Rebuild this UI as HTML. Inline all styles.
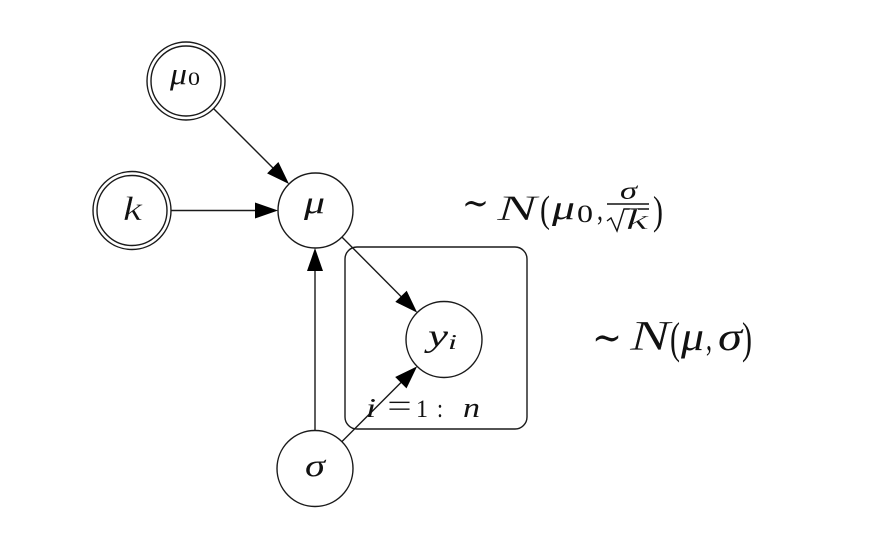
<!DOCTYPE html>
<html>
<head>
<meta charset="utf-8">
<style>
  html, body { margin:0; padding:0; background:#fff; }
  svg { display:block; }
  text { font-family: "Liberation Serif", "DejaVu Serif", serif; fill:#111; }
  .it { font-style: italic; }
  .thin { stroke:#fff; stroke-width:0.35; }
</style>
</head>
<body>
<svg width="890" height="548" viewBox="0 0 890 548" xmlns="http://www.w3.org/2000/svg">
  <rect width="890" height="548" fill="#fff"/>
  <g fill="none" stroke="#1a1a1a" stroke-width="1.4">
    <rect x="345" y="247" width="182" height="182" rx="12" ry="12"/>
    <circle cx="186" cy="81" r="39"/>
    <circle cx="186" cy="81" r="35"/>
    <circle cx="132" cy="210.5" r="39"/>
    <circle cx="132" cy="210.5" r="35"/>
    <circle cx="315.5" cy="210.5" r="37.5"/>
    <circle cx="444" cy="339.5" r="38"/>
    <circle cx="315" cy="468.5" r="38"/>
    <line x1="213.6" y1="108.6" x2="274" y2="169"/>
    <line x1="171" y1="210.5" x2="257" y2="210.5"/>
    <line x1="342" y1="237.1" x2="402" y2="297.5"/>
    <line x1="315" y1="430.5" x2="315" y2="269"/>
    <line x1="341.9" y1="441.6" x2="402" y2="381.5"/>
  </g>
  <g fill="#000" stroke="none">
    <polygon points="289,184 267.1,173.4 278.4,162.0"/>
    <polygon points="278,210.5 255,202.5 255,218.5"/>
    <polygon points="417.2,312.6 395.3,301.9 406.7,290.7"/>
    <polygon points="315,248 307,271 323,271"/>
    <polygon points="417.1,366.4 406.5,388.4 395.2,377.0"/>
  </g>
  <!-- node labels -->
  <text x="170" y="84" font-size="31" class="it" textLength="17" lengthAdjust="spacingAndGlyphs">μ</text>
  <text x="188" y="85" font-size="19" textLength="12" lengthAdjust="spacingAndGlyphs">0</text>
  <text x="123" y="220" font-size="34" class="it thin" textLength="19" lengthAdjust="spacingAndGlyphs">k</text>
  <text x="304" y="213" font-size="32" class="it" textLength="21" lengthAdjust="spacingAndGlyphs">μ</text>
  <text x="428" y="346" font-size="32" class="it" textLength="20" lengthAdjust="spacingAndGlyphs">y</text>
  <text x="448" y="349" font-size="21" class="it" textLength="9" lengthAdjust="spacingAndGlyphs">i</text>
  <text x="305" y="476" font-size="32" class="it" textLength="20" lengthAdjust="spacingAndGlyphs">σ</text>
  <!-- plate label -->
  <text x="366" y="417" font-size="27" class="it" textLength="10" lengthAdjust="spacingAndGlyphs">i</text>
  <text x="387" y="417" font-size="34" class="thin" textLength="25" lengthAdjust="spacingAndGlyphs">=</text>
  <text x="416" y="417" font-size="25" textLength="12" lengthAdjust="spacingAndGlyphs">1</text>
  <text x="437" y="417" font-size="26" textLength="6" lengthAdjust="spacingAndGlyphs">:</text>
  <text x="463" y="417" font-size="28" class="it" textLength="17" lengthAdjust="spacingAndGlyphs">n</text>
  <!-- distribution label 1 -->
  <text x="462" y="215" font-size="36" textLength="27" lengthAdjust="spacingAndGlyphs">∼</text>
  <text x="497" y="220" font-size="36" class="it thin" textLength="40" lengthAdjust="spacingAndGlyphs">N</text>
  <text x="540" y="222" font-size="38" textLength="10" lengthAdjust="spacingAndGlyphs">(</text>
  <text x="552" y="219" font-size="34" class="it" textLength="23" lengthAdjust="spacingAndGlyphs">μ</text>
  <text x="577" y="222" font-size="25" textLength="16" lengthAdjust="spacingAndGlyphs">0</text>
  <text x="597" y="220" font-size="32" textLength="6" lengthAdjust="spacingAndGlyphs">,</text>
  <text x="620" y="199" font-size="25" class="it" textLength="17" lengthAdjust="spacingAndGlyphs">σ</text>
  <line x1="607" y1="204" x2="649" y2="204" stroke="#111" stroke-width="1.4"/>
  <path d="M607,221 L611,218 L617,231 L624,209 L649,209" fill="none" stroke="#111" stroke-width="1.4"/>
  <text x="626" y="229" font-size="28" class="it thin" textLength="22" lengthAdjust="spacingAndGlyphs">k</text>
  <text x="653" y="224" font-size="40" textLength="10" lengthAdjust="spacingAndGlyphs">)</text>
  <!-- distribution label 2 -->
  <text x="592" y="351" font-size="40" textLength="30" lengthAdjust="spacingAndGlyphs">∼</text>
  <text x="630" y="350" font-size="42" class="it thin" textLength="40" lengthAdjust="spacingAndGlyphs">N</text>
  <text x="670" y="353" font-size="44" textLength="10" lengthAdjust="spacingAndGlyphs">(</text>
  <text x="681" y="350" font-size="40" class="it" textLength="23" lengthAdjust="spacingAndGlyphs">μ</text>
  <text x="706" y="350" font-size="38" textLength="6" lengthAdjust="spacingAndGlyphs">,</text>
  <text x="718" y="350" font-size="40" class="it" textLength="24" lengthAdjust="spacingAndGlyphs">σ</text>
  <text x="742" y="353" font-size="44" textLength="10" lengthAdjust="spacingAndGlyphs">)</text>
</svg>
</body>
</html>
